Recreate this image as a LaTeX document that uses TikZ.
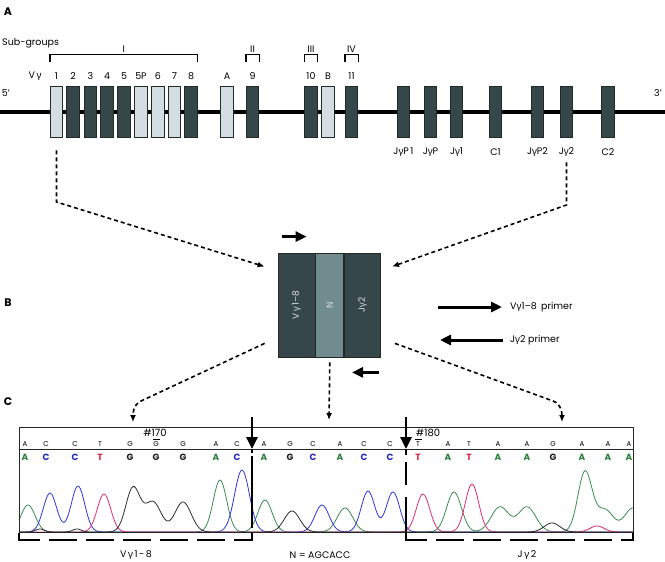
\documentclass[tikz,border=0pt]{standalone}
\usepackage{fontspec}
\setmainfont{Poppins}
\newfontfamily\greekfont{Noto Sans}
\newcommand{\gm}{{\greekfont γ}}
\usetikzlibrary{arrows.meta,positioning}
\definecolor{segdark}{RGB}{54,71,74}
\definecolor{seglight}{RGB}{211,221,226}
\definecolor{segmid}{RGB}{112,140,143}
\definecolor{baseA}{RGB}{38,128,58}
\definecolor{baseC}{RGB}{32,42,200}
\definecolor{baseT}{RGB}{222,32,64}
\definecolor{baseG}{RGB}{30,30,30}
\definecolor{trA}{RGB}{58,140,82}
\definecolor{trC}{RGB}{45,55,225}
\definecolor{trT}{RGB}{225,45,110}
\definecolor{trG}{RGB}{45,45,45}
\begin{document}
\begin{tikzpicture}[x=1pt,y=-1pt,
  seg/.style={draw=segdark!60!black,line width=0.6pt,minimum width=12.5pt,minimum height=51pt,inner sep=0pt},
  lbl/.style={font=\fontsize{9.5}{11}\selectfont,inner sep=0pt},
  panel/.style={font=\fontsize{11}{13}\selectfont\bfseries,inner sep=0pt},
  brk/.style={line width=1.1pt},
  conn/.style={line width=1.6pt,dash pattern=on 4pt off 3pt,-{Latex[length=7pt,width=6pt]}},
  primer/.style={line width=3pt,-{Triangle[length=11pt,width=10pt]}},
  cseg/.style={draw=black!85,line width=0.8pt,minimum height=104pt,inner sep=0pt,text=white!85!segdark,font=\fontsize{9}{10}\selectfont},
  smallbase/.style={font=\fontsize{7}{8}\selectfont,inner sep=0pt},
  bigbase/.style={font=\fontsize{9}{10}\selectfont\bfseries,inner sep=0pt},
  trace/.style={line width=0.8pt},
  frame/.style={line width=0.8pt,black!85},
  declare function={gp(\pos,\ctr,\amp,\wid)=\amp*exp(-min(((\pos-\ctr)/\wid)*((\pos-\ctr)/\wid),9));}
]
\useasboundingbox (0,0) rectangle (665,562);

\node[panel] (pa) at (8,12) {A};
\node[panel] (pb) at (8,303) {B};
\node[panel] (pc) at (8,402) {C};

\draw[line width=3.5pt] (0,112) -- (665,112);
\node[lbl] (five) at (6,93) {5'};
\node[lbl] (three) at (658,93) {3'};
\node[lbl,anchor=west] (subgr) at (2,43) {Sub-groups};
\node[lbl] (vglbl) at (35,76) {V\,\gm};

\foreach \n/\x/\f/\l in {v1/56.5/seglight/1, v2/73/segdark/2, v3/90.5/segdark/3, v4/107/segdark/4,
    v5/124/segdark/5, v5p/141/seglight/5P, v6/158/seglight/6, v7/174.5/seglight/7, v8/191/segdark/8,
    vA/227/seglight/A, v9/252.5/segdark/9, v10/311/segdark/10, vB/328/seglight/B, v11/351.5/segdark/11}
{
  \node[seg,fill=\f] (\n) at (\x,111.5) {};
  \node[lbl] (\n-l) at (\x,76) {\l};
}
\foreach \n/\x/\l in {jp1/403.5/J\gm P\,1, jp/430.5/J\gm P, j1/456.5/J\gm 1, c1/495.5/C1,
    jp2/537.5/J\gm P2, j2/566.5/J\gm 2, c2/608/C2}
{
  \node[seg,fill=segdark] (\n) at (\x,111.5) {};
  \node[lbl] (\n-l) at (\x,152) {\l};
}

\draw[brk] ([yshift=24pt]v1.north west) -- ++(0,-7) -| node[pos=0.25,above=1.5pt,lbl] (sgI) {I} ([yshift=24pt]v8.north east);
\draw[brk] ([yshift=24pt]v9.north west) -- ++(0,-7) -| node[pos=0.25,above=1.5pt,lbl] (sgII) {II} ([yshift=24pt]v9.north east);
\draw[brk] ([yshift=24pt]v10.north west) -- ++(0,-7) -| node[pos=0.25,above=1.5pt,lbl] (sgIII) {III} ([yshift=24pt]v10.north east);
\draw[brk] ([yshift=24pt]v11.north west) -- ++(0,-7) -| node[pos=0.25,above=1.5pt,lbl] (sgIV) {IV} ([yshift=24pt]v11.north east);

\node[cseg,fill=segdark,minimum width=37pt] (bv) at (296.5,305) {\rotatebox{90}{V\,\gm\,1--8}};
\node[cseg,fill=segmid,minimum width=28pt,right=0pt of bv] (bn) {\rotatebox{90}{N}};
\node[cseg,fill=segdark,minimum width=36pt,right=0pt of bn] (bj) {\rotatebox{90}{J\gm 2}};

\coordinate (kL) at (56.5,202);
\coordinate (kR) at (566.5,205);
\draw[conn] ([yshift=-13pt]v1.south) -- (kL) -- ([shift={(-13,14)}]bv.north west);
\draw[conn] ([yshift=-25pt]j2.south) -- (kR) -- ([shift={(11,14)}]bj.north east);

\draw[primer] ([shift={(4,-16)}]bv.north west) -- ++(25,0);
\draw[primer] ([shift={(-2,15)}]bj.south east) -- ++(-27,0);

\node[lbl,anchor=west] (fwdlbl) at (510,307) {V\gm 1--8\, primer};
\node[lbl,anchor=west] (revlbl) at (510,340) {J\gm 2 primer};
\draw[primer] ([xshift=-72pt]fwdlbl.west) -- ([xshift=-8pt]fwdlbl.west);
\draw[primer] ([xshift=-7pt]revlbl.west) -- ([xshift=-70pt]revlbl.west);

\coordinate (tL) at (133,422);
\coordinate (tM) at (329,420);
\coordinate (tR) at (562,422);
\draw[conn] ([shift={(-13,-14)}]bv.south west) -- (141,401) to[out=-155,in=90] (tL);
\draw[conn] ([yshift=-5pt]bn.south) -- (tM);
\draw[conn] ([shift={(14,-14)}]bj.south east) -- (553,401) to[out=-20,in=90] (tR);

\draw[trace,trA] plot[domain=19:633,samples=411] (\x,{532-gp(\x,28,27,10)-gp(\x,220,52,9.5)-gp(\x,265,32,10)-gp(\x,345,24,11)-gp(\x,454,40,10.5)-gp(\x,500,25,12.5)-gp(\x,527,25,12.5)-gp(\x,585,60,10)-gp(\x,605,22,12)-gp(\x,633,24,12)});
\draw[trace,trC] plot[domain=19:633,samples=411] (\x,{532-gp(\x,50,39,9.5)-gp(\x,78,46,9.5)-gp(\x,242,62,10.5)-gp(\x,322,27,10)-gp(\x,368,41,9.5)-gp(\x,393,40,9.5)});
\draw[trace,trT] plot[domain=19:633,samples=411] (\x,{532-gp(\x,104,38,9.5)-gp(\x,423,38,9.5)-gp(\x,472,48,9.5)-gp(\x,597,6,10)});
\draw[trace,trG] plot[domain=19:633,samples=411] (\x,{532-gp(\x,40,3,6)-gp(\x,77,3,6)-gp(\x,133,44,10)-gp(\x,153,30,11.5)-gp(\x,183,30,11.5)-gp(\x,292,21,11)-gp(\x,552,9,11)});

\draw[frame] (19,427) rectangle (633,532);
\draw[frame] (19,449) -- (633,449);

\foreach \b/\x [count=\i] in {A/25, C/46, C/75, T/100, G/130, G/156, G/183, A/216, C/237,
    A/264, G/290, C/313, A/340, C/364, C/390, T/418, A/448, T/469, A/498, A/527, G/553, A/582, A/608, A/629}
{
  \node[smallbase] (sb\i) at (\x,444.5) {\b};
  \node[bigbase,text=base\b] (bb\i) at (\x,457.5) {\b};
}
\node[lbl,font=\fontsize{10}{11}\selectfont] (n170) at (155,433) {\#170};
\node[lbl,font=\fontsize{10}{11}\selectfont] (n180) at (428,433) {\#180};
\draw[line width=0.5pt] (153,439) -- (160,439);
\draw[line width=0.5pt] (415,439) -- (422,439);

\coordinate (junL) at (252,449);
\coordinate (junR) at (406,449);
\draw[line width=1.6pt,dash pattern=on 4pt off 3pt on 72pt off 10pt] (junL) -- (252,532);
\draw[line width=1.6pt,dash pattern=on 6pt off 7pt on 23pt off 12pt on 40pt off 0pt] (junR) -- (406,532);
\draw[line width=2.8pt,-{Triangle[length=12pt,width=11pt]}] (252,417) -- (junL);
\draw[line width=2.8pt,-{Triangle[length=12pt,width=11pt]}] (406,417) -- (junR);

\draw[line width=1.5pt,dash pattern=on 28pt off 9pt] (19,533) -- (19,540) -- (252,540) -- (252,533);
\draw[line width=1.5pt,dash pattern=on 28pt off 9pt] (406,533) -- (406,540) -- (633,540) -- (633,533);
\node[lbl] (lv) at (136,555) {V\,\gm\,1\,-\,8};
\node[lbl] (ln) at (320,555) {N = AGCACC};
\node[lbl] (lj) at (527,555) {J\,\gm\,2};
\end{tikzpicture}
\end{document}
